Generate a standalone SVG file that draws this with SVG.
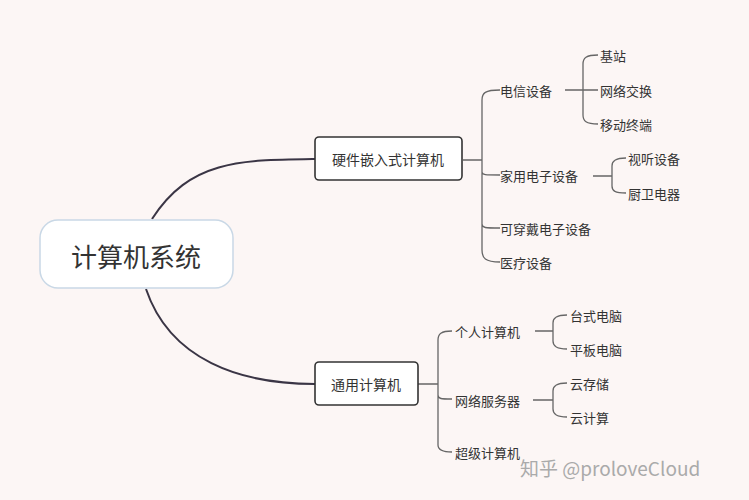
<svg xmlns="http://www.w3.org/2000/svg" width="749" height="500" viewBox="0 0 749 500">
<style>
text{font-family:"Noto Sans CJK SC","Noto Sans",sans-serif;fill:#333;dominant-baseline:central}
.t{font-size:13px}
.b{font-size:14px}
.main{fill:none;stroke:#3a3545;stroke-width:2}
.br{fill:none;stroke:#666;stroke-width:1.3}
.bx{fill:#fff;stroke:#333;stroke-width:1.6}
</style>
<rect width="749" height="500" fill="#fcf6f5"/>
<g id="connectors">
<path class="main" d="M152,219 C190,160 240,160 315,159"/>
<path class="main" d="M146,289 C170,360 240,384 315,384"/>
<path class="br" d="M463,160 H482 M500,90 C485,90 482,93 482,100 V250 C482,258 485,262 500,262 M482,172 C482,175 485,175 500,175 M482,224 C482,228 485,228 500,228"/>
<path class="br" d="M565,90 H583 M598,55 C586,55 583,58 583,64 V115 C583,121 586,124 598,124 M583,90 H598"/>
<path class="br" d="M593,176 H612 M626,158 C615,158 612,161 612,166 V186 C612,191 615,193 626,193"/>
<path class="br" d="M418,384 H438 M452,331 C441,331 438,334 438,340 V445 C438,449 441,452 452,452 M438,395 C438,399 441,399 452,399"/>
<path class="br" d="M535,331 H553 M567,315 C556,315 553,318 553,323 V341 C553,346 556,349 567,349"/>
<path class="br" d="M533,400 H553 M567,383 C556,383 553,386 553,391 V409 C553,414 556,417 567,417"/>
</g>
<g id="root"><rect x="40" y="220" width="193" height="68" rx="18" fill="#fff" stroke="#c9d8e6" stroke-width="1.5"/><text x="136" y="255" font-size="26" text-anchor="middle">计算机系统</text></g>
<g id="n1"><rect class="bx" x="315" y="137" width="147" height="43" rx="4"/><text class="b" x="388" y="159" text-anchor="middle">硬件嵌入式计算机</text></g>
<g id="n2"><rect class="bx" x="315" y="362" width="103" height="43" rx="4"/><text class="b" x="366" y="384" text-anchor="middle">通用计算机</text></g>
<g id="leaves">
<text class="t" x="500" y="90">电信设备</text>
<text class="t" x="500" y="175">家用电子设备</text>
<text class="t" x="500" y="228">可穿戴电子设备</text>
<text class="t" x="500" y="262">医疗设备</text>
<text class="t" x="600" y="55">基站</text>
<text class="t" x="600" y="90">网络交换</text>
<text class="t" x="600" y="124">移动终端</text>
<text class="t" x="628" y="158">视听设备</text>
<text class="t" x="628" y="193">厨卫电器</text>
<text class="t" x="455" y="331">个人计算机</text>
<text class="t" x="455" y="400">网络服务器</text>
<text class="t" x="455" y="452">超级计算机</text>
<text class="t" x="570" y="315">台式电脑</text>
<text class="t" x="570" y="349">平板电脑</text>
<text class="t" x="570" y="383">云存储</text>
<text class="t" x="570" y="417">云计算</text>
</g>
<text x="520" y="467" font-size="19" style="fill:#aaa">知乎 @proloveCloud</text>
</svg>
